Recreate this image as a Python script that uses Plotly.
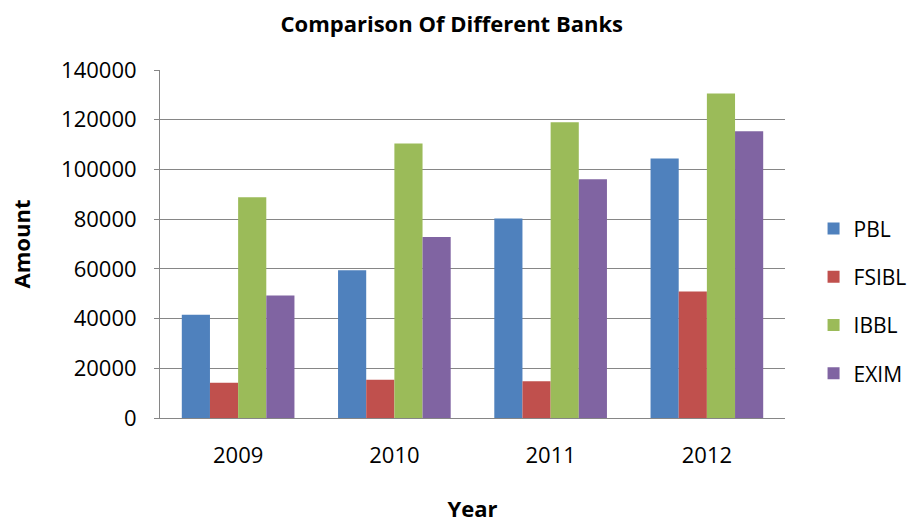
import plotly.graph_objects as go

years = ["2009", "2010", "2011", "2012"]
banks = ["PBL", "FSIBL", "IBBL", "EXIM"]
pbl = [41500, 59400, 80300, 104400]
fsibl = [14200, 15400, 14800, 50900]
ibbl = [88800, 110400, 119000, 130500]
exim = [49300, 72800, 96000, 115400]
colors = ["#4F81BD", "#C0504D", "#9BBB59", "#8064A2"]
y_ticks = [0, 20000, 40000, 60000, 80000, 100000, 120000, 140000]

FONT = "'Open Sans', sans-serif"

fig = go.Figure()
for i, (name, vals) in enumerate(zip(banks, [pbl, fsibl, ibbl, exim])):
    fig.add_trace(go.Bar(
        x=years, y=vals, name=name, legendgroup=name,
        marker=dict(color=colors[i], line=dict(width=0)),
    ))

fig.update_layout(
    width=909, height=523,
    margin=dict(l=160, r=124, t=70, b=105, autoexpand=False),
    paper_bgcolor="white", plot_bgcolor="white",
    barmode="group", bargap=0.279, bargroupgap=0,
    font=dict(family=FONT, size=21, color="black"),
    title=dict(text="<b>Comparison Of Different Banks</b>", x=0.497, xanchor="center",
               y=0.953, yanchor="middle", font=dict(size=22)),
    legend=dict(xref="container", yref="container", x=0.895, xanchor="left",
                y=0.424, yanchor="middle",
                font=dict(size=21), tracegroupgap=18, itemwidth=30),
    showlegend=True,
)
fig.update_xaxes(
    showline=True, linecolor="#868686", linewidth=1,
    ticks="", ticklabelstandoff=18, tickfont=dict(size=22),
    title=dict(text="<b>Year</b>", font=dict(size=22), standoff=36),
)
fig.update_yaxes(
    range=[0, 140000], tickvals=y_ticks, tickformat="d",
    showgrid=True, gridcolor="#868686", gridwidth=1,
    showline=True, linecolor="#868686", linewidth=1,
    ticks="outside", ticklen=5, tickcolor="#868686",
    ticklabelstandoff=13, tickfont=dict(size=22),
    title=dict(text="<b>Amount</b>", font=dict(size=22), standoff=24),
)

fig.write_html("out.html")
